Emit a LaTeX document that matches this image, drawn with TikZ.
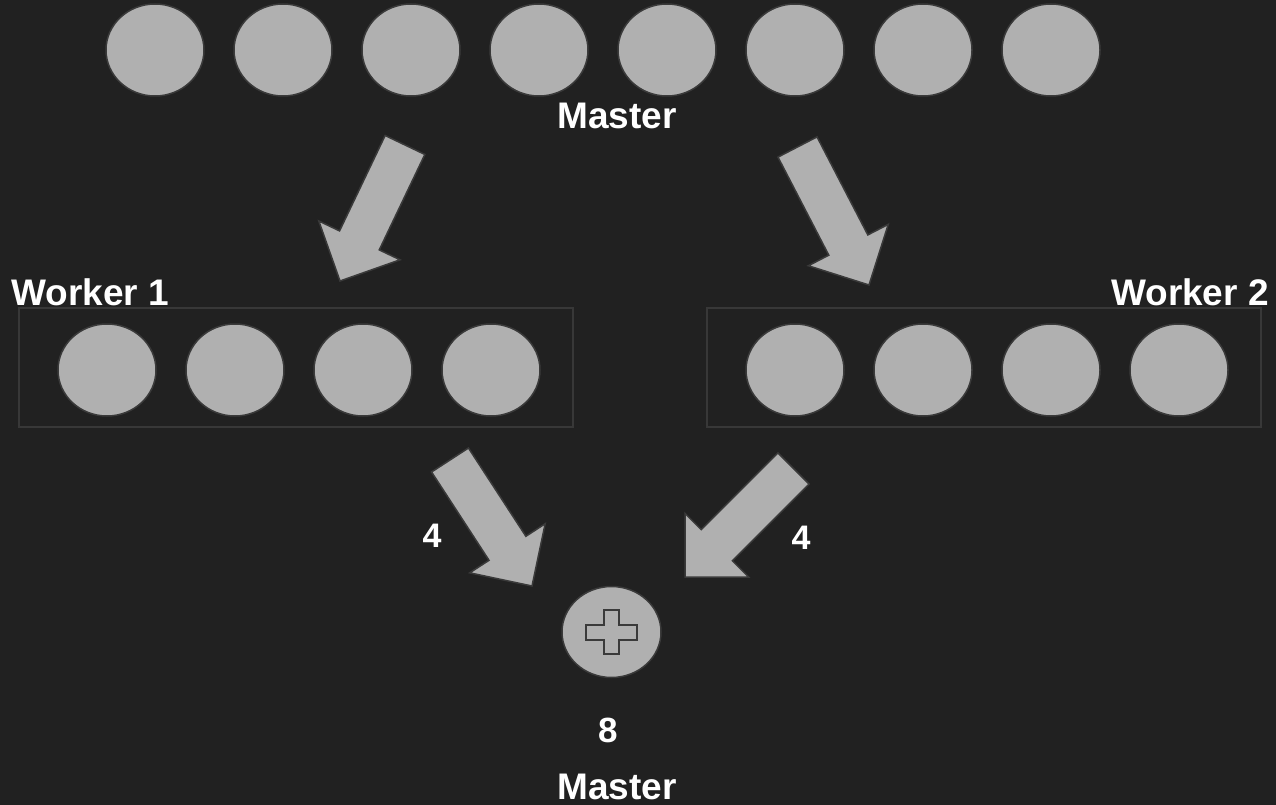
\documentclass[tikz,border=0pt]{standalone}
\usepackage{fontspec}
\setmainfont{Liberation Sans}
\usepackage{tikz}
\usetikzlibrary{calc, shapes.geometric}
\definecolor{canvas}{RGB}{33, 33, 33}
\definecolor{beadgray}{RGB}{176, 176, 176}
\definecolor{rimgray}{RGB}{58, 58, 58}
\definecolor{boxgray}{RGB}{56, 56, 56}
\tikzset{
    bead/.style  ={ellipse, draw=rimgray, line width=1.5pt, fill=beadgray,
                   minimum width=98pt, minimum height=92pt, inner sep=0pt},
    sumbead/.style={bead, minimum width=99pt, minimum height=91pt},
    wbox/.style  ={draw=boxgray, line width=1.5pt, inner sep=0pt,
                   minimum width=554pt, minimum height=119pt},
    barrow/.style={fill=beadgray, draw=rimgray, line width=1.5pt, line join=miter},
    plusmark/.style={draw=rimgray, line width=2pt, fill=beadgray},
    lbl/.style   ={text=white, inner sep=0pt, anchor=base,
                   font=\fontsize{37}{44}\selectfont\bfseries},
    cnt/.style   ={lbl, font=\fontsize{34}{40}\selectfont\bfseries}
}
% block arrow from tail #1 to tip #2
\newcommand{\blockarrow}[2]{%
  \coordinate (#2-h) at ($(#2)!45pt!(#1)$);
  \draw[barrow] ($(#1)!22pt!90:(#2)$) -- ($(#2-h)!22pt!90:(#2)$)
       -- ($(#2-h)!45pt!90:(#2)$) -- (#2) -- ($(#2-h)!45pt!-90:(#2)$)
       -- ($(#2-h)!22pt!-90:(#2)$) -- ($(#1)!22pt!-90:(#2)$) -- cycle;}

\begin{document}
\begin{tikzpicture}[x=1pt, y=-1pt]

  % ---- canvas
  \fill[canvas] (0,0) rectangle (1276,805);
  \useasboundingbox (0,0) rectangle (1276,805);

  % ---- master row
  \node[bead] (m1) at ( 155, 50) {};
  \node[bead] (m2) at ( 283, 50) {};
  \node[bead] (m3) at ( 411, 50) {};
  \node[bead] (m4) at ( 539, 50) {};
  \node[bead] (m5) at ( 667, 50) {};
  \node[bead] (m6) at ( 795, 50) {};
  \node[bead] (m7) at ( 923, 50) {};
  \node[bead] (m8) at (1051, 50) {};
  \node[lbl] (mtop) at (617, 129) {Master};

  % ---- worker 1
  \node[wbox] (w1box) at (296, 367.5) {};
  \node[lbl, anchor=base west] (w1lbl) at (11, 305) {Worker 1};
  \node[bead] (w1a) at (107, 370) {};
  \node[bead] (w1b) at (235, 370) {};
  \node[bead] (w1c) at (363, 370) {};
  \node[bead] (w1d) at (491, 370) {};

  % ---- worker 2
  \node[wbox] (w2box) at (984, 367.5) {};
  \node[lbl, anchor=base east] (w2lbl) at (1269, 305) {Worker 2};
  \node[bead] (w2a) at ( 795, 370) {};
  \node[bead] (w2b) at ( 923, 370) {};
  \node[bead] (w2c) at (1051, 370) {};
  \node[bead] (w2d) at (1179, 370) {};

  % ---- scatter arrows
  \coordinate (s1tail) at (405, 145);   \coordinate (s1tip) at (340, 281);
  \coordinate (s2tail) at (797.5, 147); \coordinate (s2tip) at (869, 285);
  \blockarrow{s1tail}{s1tip}
  \blockarrow{s2tail}{s2tip}

  % ---- gather arrows
  \coordinate (g1tail) at (450, 460);     \coordinate (g1tip) at (532, 586);
  \coordinate (g2tail) at (793.5, 468.5); \coordinate (g2tip) at (685, 577);
  \blockarrow{g1tail}{g1tip}
  \blockarrow{g2tail}{g2tip}
  \node[cnt] (c1) at (432, 547) {4};
  \node[cnt] (c2) at (801, 549) {4};

  % ---- reduce on master
  \node[sumbead] (sum) at (611.5, 632) {};
  \draw[plusmark] ($(sum)+(-7.5,-22)$) -- ++(15,0) -- ++(0,14.5) -- ++(18,0)
       -- ++(0,15) -- ++(-18,0) -- ++(0,14.5) -- ++(-15,0) -- ++(0,-14.5)
       -- ++(-18,0) -- ++(0,-15) -- ++(18,0) -- cycle;
  \node[cnt, font=\fontsize{35}{42}\selectfont\bfseries] (total) at (608, 742) {8};
  \node[lbl] (mbot) at (617, 799) {Master};
\end{tikzpicture}
\end{document}
